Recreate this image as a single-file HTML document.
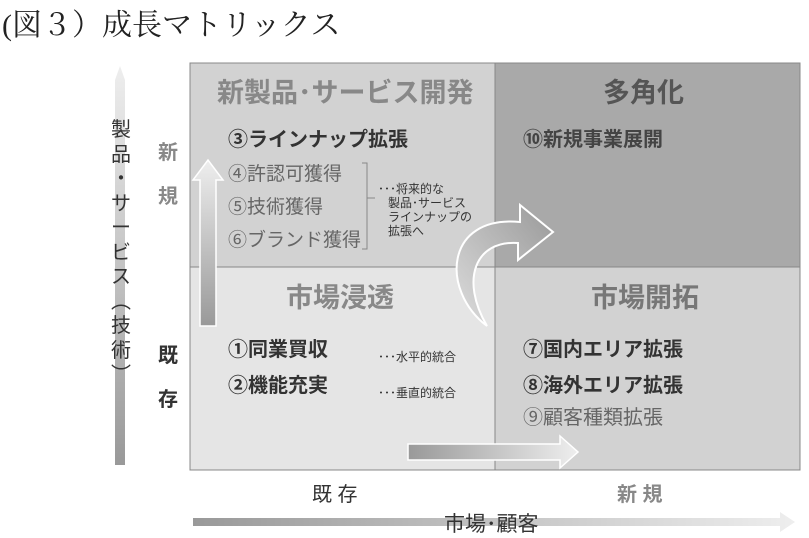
<!DOCTYPE html><html><head><meta charset="utf-8"><style>
body{margin:0;width:809px;height:537px;background:#fff;position:relative;overflow:hidden;font-family:"Liberation Sans","Noto Sans CJK JP",sans-serif}
.a{position:absolute;white-space:nowrap}
.b{font-weight:bold}
</style></head><body>
<div class="a" style="left:2px;top:0px;font-size:30px;font-family:'Liberation Serif','Noto Serif CJK SC',serif;color:#222">(図３）成長マトリックス</div>
<svg class="a" style="left:0;top:0" width="809" height="537">
<defs>
<linearGradient id="gv" x1="0" y1="1" x2="0" y2="0"><stop offset="0" stop-color="#999"/><stop offset="1" stop-color="#eee"/></linearGradient>
<linearGradient id="gh" x1="0" y1="0" x2="1" y2="0"><stop offset="0" stop-color="#999"/><stop offset="1" stop-color="#eee"/></linearGradient>
<linearGradient id="gc" x1="0" y1="1" x2="1" y2="0"><stop offset="0" stop-color="#ddd"/><stop offset="1" stop-color="#999"/></linearGradient>
</defs>
<rect x="190" y="63" width="305" height="204" fill="#d2d2d2"/>
<rect x="495" y="63" width="305" height="204" fill="#a9a9a9"/>
<rect x="190" y="267" width="305" height="203" fill="#e5e5e5"/>
<rect x="495" y="267" width="305" height="203" fill="#d2d2d2"/>
<path d="M190 63H800V470H190Z M495 63V470 M190 267H800" fill="none" stroke="#888" stroke-width="1"/>
<polygon points="115,465 115,80 120,66 125,80 125,465" fill="url(#gv)"/>
<polygon points="200,326 200,180 193,180 208,160 223,180 216,180 216,326" fill="url(#gv)" stroke="#fff" stroke-width="1.5"/>
<polygon points="408,460 560,460 560,468 578,452 560,436 560,444 408,444" fill="url(#gh)" stroke="#fff" stroke-width="1.5"/>
<polygon points="193,518 780,518 780,512 795,522 780,532 780,526 193,526" fill="url(#gh)"/>
<path d="M487 326 C440 290 445 215 520 222 L520 205 L553 232 L518 260 L518 243 C475 240 460 280 487 326Z" fill="url(#gc)" stroke="#fff" stroke-width="2"/>
<path d="M362 163h5v86h-5 M367 198h8" fill="none" stroke="#888"/>
</svg>
<div class="a" style="left:110px;top:118px;font-size:20px;color:#333;line-height:24.5px;width:22px;white-space:normal;text-align:center">製<br>品<br>・<br>サ<br>ー<br>ビ<br>ス<br>︵<br>技<br>術<br>︶</div>
<div class="a b" style="left:158px;top:131px;font-size:20px;color:#888;line-height:44px">新<br>規</div>
<div class="a b" style="left:158px;top:334px;font-size:20px;color:#333;line-height:44px">既<br>存</div>
<div class="a b" style="left:217px;top:71px;font-size:27px;color:#888">新製品･サービス開発</div>
<div class="a b" style="left:603px;top:71px;font-size:27px;color:#555">多角化</div>
<div class="a b" style="left:286px;top:276px;font-size:27px;color:#888">市場浸透</div>
<div class="a b" style="left:591px;top:276px;font-size:27px;color:#777">市場開拓</div>
<div class="a b" style="left:228px;top:123px;font-size:20px;color:#333">③ラインナップ拡張</div>
<div class="a" style="left:228px;top:158px;font-size:19px;color:#666;line-height:33px">④許認可獲得<br>⑤技術獲得<br>⑥ブランド獲得</div>
<div class="a" style="left:378px;top:182px;font-size:12px;color:#333;line-height:14px">･･･将来的な<br>&nbsp;&nbsp;&nbsp;製品･サービス<br>&nbsp;&nbsp;&nbsp;ラインナップの<br>&nbsp;&nbsp;&nbsp;拡張へ</div>
<div class="a b" style="left:523px;top:123px;font-size:20px;color:#444">⑩新規事業展開</div>
<div class="a b" style="left:228px;top:332px;font-size:20px;color:#333;line-height:36px">①同業買収<br>②機能充実</div>
<div class="a" style="left:378px;top:339px;font-size:12px;color:#333;line-height:36px">･･･水平的統合<br>･･･垂直的統合</div>
<div class="a b" style="left:523px;top:332px;font-size:20px;color:#333;line-height:36px">⑦国内エリア拡張<br>⑧海外エリア拡張</div>
<div class="a" style="left:523px;top:401px;font-size:20px;color:#666">⑨顧客種類拡張</div>
<div class="a" style="left:312px;top:478px;font-size:20px;color:#333">既&nbsp;存</div>
<div class="a b" style="left:617px;top:478px;font-size:20px;color:#888">新&nbsp;規</div>
<div class="a" style="left:444px;top:508px;font-size:21px;color:#333">市場･顧客</div>
</body></html>
